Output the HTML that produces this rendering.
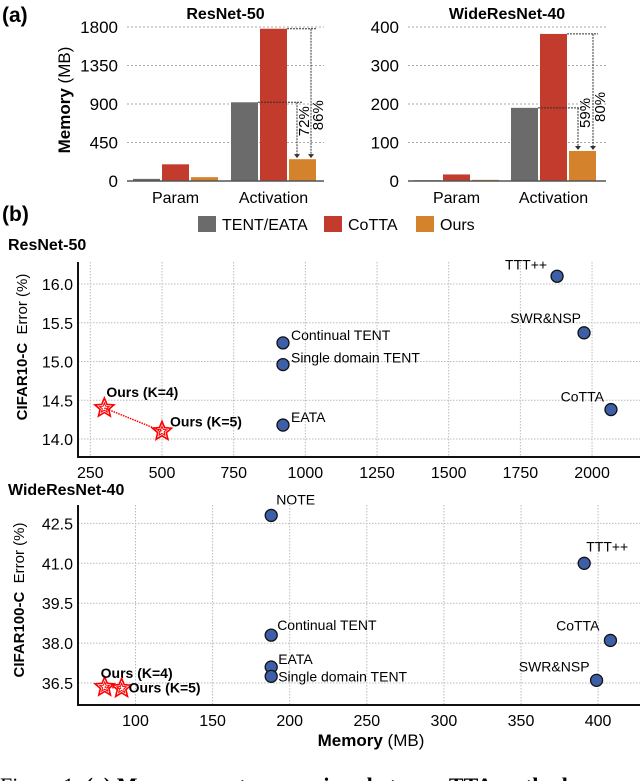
<!DOCTYPE html>
<html><head><meta charset="utf-8"><style>
body{margin:0;background:#fff;width:640px;height:781px;overflow:hidden}
svg{display:block;font-family:"Liberation Sans",sans-serif}
</style></head><body>
<svg id="fig" width="640" height="781" viewBox="0 0 640 781"></svg>
<script>
// ---- Panel (a) data ----
const barCategories = ['Param', 'Activation'];
const barSeries = ['TENT/EATA', 'CoTTA', 'Ours'];
const resnetTentEata = [25, 920];
const resnetCotta = [195, 1780];
const resnetOurs = [45, 255];
const wideTentEata = [2, 190];
const wideCotta = [17, 382];
const wideOurs = [3, 78];
const resnetBarTicks = [0, 450, 900, 1350, 1800];
const wideBarTicks = [0, 100, 200, 300, 400];
const resnetReductions = ['72%', '86%'];
const wideReductions = ['59%', '80%'];
// ---- Panel (b) data ----
const r50Methods = ['TTT++', 'SWR&NSP', 'Continual TENT', 'Single domain TENT', 'EATA', 'CoTTA'];
const r50Memory = [1878, 1972, 922, 922, 922, 2066];
const r50Error = [16.1, 15.37, 15.24, 14.96, 14.18, 14.38];
const r50OursLabels = ['Ours (K=4)', 'Ours (K=5)'];
const r50OursMemory = [299, 500];
const r50OursError = [14.4, 14.1];
const r50XTicks = [250, 500, 750, 1000, 1250, 1500, 1750, 2000];
const r50YTicks = [14.0, 14.5, 15.0, 15.5, 16.0];
const wrnMethods = ['NOTE', 'TTT++', 'Continual TENT', 'CoTTA', 'EATA', 'Single domain TENT', 'SWR&NSP'];
const wrnMemory = [188, 391, 188, 408, 188, 188, 399];
const wrnError = [42.8, 41.0, 38.3, 38.1, 37.1, 36.75, 36.6];
const wrnOursLabels = ['Ours (K=4)', 'Ours (K=5)'];
const wrnOursMemory = [80, 91];
const wrnOursError = [36.35, 36.3];
const wrnXTicks = [100, 150, 200, 250, 300, 350, 400];
const wrnYTicks = [36.5, 38.0, 39.5, 41.0, 42.5];

const NS = 'http://www.w3.org/2000/svg';
const svg = document.getElementById('fig');
function el(tag, attrs, parent, text) {
  const e = document.createElementNS(NS, tag);
  for (const k in attrs) e.setAttribute(k, attrs[k]);
  if (text !== undefined) e.textContent = text;
  (parent || svg).appendChild(e);
  return e;
}
const colors = ['#6b6b6b', '#c23b2c', '#d4832c'];

let t = el('text', {x: 2, y: 22, 'font-size': 21, 'font-weight': 'bold'}, svg, '(a)');
 
t = el('text', {x: 2, y: 221, 'font-size': 21, 'font-weight': 'bold'}, svg, '(b)');
 
t = el('text', {x: 0, y: 0, 'font-size': 17, 'font-weight': 'bold', transform: 'translate(70,100) rotate(-90)', 'text-anchor': 'middle'}, svg);
 
el('tspan', {}, t, 'Memory ');
el('tspan', {'font-weight': 'normal'}, t, '(MB)');

function barChart(name, title, x0, x1, ticks, series, groupX, barW, reductions, annot) {
  const g = el('g', {});
  
  
  const yTop = 27, yBot = 181, vmax = ticks[ticks.length - 1];
  const y = v => yBot - v / vmax * (yBot - yTop);
  const tt = el('text', {x: (x0 + x1) / 2, y: 19, 'font-size': 16, 'font-weight': 'bold', 'text-anchor': 'middle'}, g, title);
   
  ticks.forEach(v => {
    if (v > 0) el('line', {x1: x0, x2: x1, y1: y(v), y2: y(v), stroke: '#aaa', 'stroke-dasharray': '2,2', 'stroke-width': 1}, g);
    const l = el('text', {x: x0 - 9, y: y(v) + 6, 'font-size': 17, 'text-anchor': 'end'}, g, String(v));
     
  });
  series.forEach((vals, si) => {
    vals.forEach((v, ci) => {
      const bx = groupX[ci] + si * (barW + 2);
      const r = el('rect', {x: bx, y: y(v), width: barW, height: yBot - y(v), fill: colors[si]}, g);
      
      
    });
  });
  el('line', {x1: x0, x2: x1, y1: yBot, y2: yBot, stroke: '#555', 'stroke-width': 1.5}, g);
  barCategories.forEach((c, ci) => {
    const l = el('text', {x: groupX[ci] + 1.5 * barW + 2, y: 203, 'font-size': 16, 'text-anchor': 'middle'}, g, c);
     
  });
  const ours = series[2][1];
  const gx = groupX[1];
  const levels = [series[0][1], series[1][1]];
  const starts = [gx + barW, gx + 2 * barW + 2];
  levels.forEach((lv, i) => {
    const ax = annot[i];
    el('line', {x1: starts[i], x2: annot[i] + 5, y1: y(lv), y2: y(lv), stroke: '#333', 'stroke-dasharray': '2,1', 'stroke-width': 1}, g);
    el('line', {x1: ax, x2: ax, y1: y(lv), y2: y(ours) - 4, stroke: '#333', 'stroke-dasharray': '2,1', 'stroke-width': 1}, g);
    el('path', {d: `M${ax - 3},${y(ours) - 5} L${ax + 3},${y(ours) - 5} L${ax},${y(ours) - 1} Z`, fill: '#333'}, g);
    const cy = y(ours) - 38 - i * 6;
    const rt = el('text', {x: 0, y: 0, 'font-size': 15, 'text-anchor': 'middle', transform: `translate(${ax + 12},${cy}) rotate(-90)`}, g, reductions[i]);
     
  });
}
barChart('resnet50-memory-bar-chart', 'ResNet-50', 127, 324, resnetBarTicks,
  [resnetTentEata, resnetCotta, resnetOurs], [133, 231], 27, resnetReductions, [297, 311]);
barChart('wideresnet40-memory-bar-chart', 'WideResNet-40', 408, 606, wideBarTicks,
  [wideTentEata, wideCotta, wideOurs], [414, 511], 27, wideReductions, [578, 593]);

const lg = el('g', {});
 
const legX = [198, 324, 416];
barSeries.forEach((s, i) => {
  const r = el('rect', {x: legX[i], y: 216, width: 18, height: 16, fill: colors[i]}, lg);
   
  const l = el('text', {x: legX[i] + 24, y: 230, 'font-size': 16}, lg, s);
   
});

function star(cx, cy, R, r) {
  let d = '';
  for (let i = 0; i < 10; i++) {
    const a = -Math.PI / 2 + i * Math.PI / 5, rr = i % 2 ? r : R;
    d += (i ? 'L' : 'M') + (cx + rr * Math.cos(a)).toFixed(1) + ',' + (cy + rr * Math.sin(a)).toFixed(1);
  }
  return d + 'Z';
}

function scatter(cfg) {
  const g = el('g', {});
   
  const X = v => cfg.px0 + (v - cfg.v0) * cfg.kx;
  const Y = v => cfg.py0 - (v - cfg.e0) * cfg.ky;
  const tt = el('text', {x: cfg.titleX, y: cfg.titleY, 'font-size': 16, 'font-weight': 'bold'}, g, cfg.title);
   
  cfg.xticks.forEach(v => {
    el('line', {x1: X(v), x2: X(v), y1: cfg.top, y2: cfg.bot, stroke: '#bbb', 'stroke-dasharray': '1.5,1.5'}, g);
    const l = el('text', {x: X(v), y: cfg.bot + 21, 'font-size': 16, 'text-anchor': 'middle'}, g, String(v));
     
  });
  cfg.yticks.forEach(v => {
    el('line', {x1: cfg.left, x2: 640, y1: Y(v), y2: Y(v), stroke: '#bbb', 'stroke-dasharray': '1.5,1.5'}, g);
    const l = el('text', {x: cfg.left - 5, y: Y(v) + 6, 'font-size': 16, 'text-anchor': 'end'}, g, v.toFixed(1));
     
  });
  el('path', {d: `M${cfg.left},${cfg.top} V${cfg.bot} H640`, fill: 'none', stroke: '#111', 'stroke-width': 2}, g);
  const yt = el('text', {x: 0, y: 0, 'font-size': 15, 'text-anchor': 'middle', transform: `translate(${cfg.ytX},${cfg.ytY}) rotate(-90)`}, g);
   
  el('tspan', {'font-weight': 'bold'}, yt, cfg.ds);
  el('tspan', {}, yt, '\u00a0 Error (%)');
  cfg.methods.forEach((m, i) => {
    const cx = X(cfg.mem[i]), cy = Y(cfg.err[i]);
    const c = el('circle', {cx, cy, r: 6, fill: '#3d5fa8', stroke: '#111', 'stroke-width': 1.3}, g);
    
    
    const o = cfg.lab[i];
    const l = el('text', {x: cx + o[0], y: cy + o[1], 'font-size': 14, 'text-anchor': o[2]}, g, m);
     
  });
  const ox = cfg.oursMem.map(X), oy = cfg.oursErr.map(Y);
  el('line', {x1: ox[0], y1: oy[0], x2: ox[1], y2: oy[1], stroke: 'red', 'stroke-dasharray': '1.5,1', 'stroke-width': 1.5}, g);
  cfg.oursLabels.forEach((s, i) => {
    const p = el('path', {d: star(ox[i], oy[i], 10, 4.5), fill: 'none', stroke: 'red', 'stroke-width': 1.6}, g);
     
    el('path', {d: star(ox[i], oy[i], 5, 2.2), fill: 'none', stroke: 'red', 'stroke-width': 1}, g);
    const o = cfg.oursLab[i];
    const l = el('text', {x: ox[i] + o[0], y: oy[i] + o[1], 'font-size': 14, 'font-weight': 'bold'}, g, s);
     
  });
}

scatter({name: 'resnet50-error-vs-memory', title: 'ResNet-50', titleX: 8, titleY: 250,
  px0: 162, v0: 500, kx: 0.2867, py0: 439, e0: 14.0, ky: 77.5, left: 78, top: 262, bot: 457,
  xticks: r50XTicks, yticks: r50YTicks, ytX: 27, ytY: 347, ds: 'CIFAR10-C',
  methods: r50Methods, mem: r50Memory, err: r50Error,
  lab: [[-10, -7, 'end'], [-3, -10, 'end'], [8, -3, 'start'], [8, -2, 'start'], [8, -3, 'start'], [-7, -8, 'end']],
  oursLabels: r50OursLabels, oursMem: r50OursMemory, oursErr: r50OursError,
  oursLab: [[2, -11], [8, -5]]});

scatter({name: 'wideresnet40-error-vs-memory', title: 'WideResNet-40', titleX: 8, titleY: 495,
  px0: 135.5, v0: 100, kx: 1.542, py0: 683, e0: 36.5, ky: 26.6, left: 78, top: 505, bot: 705,
  xticks: wrnXTicks, yticks: wrnYTicks, ytX: 24, ytY: 600, ds: 'CIFAR100-C',
  methods: wrnMethods, mem: wrnMemory, err: wrnError,
  lab: [[5, -11, 'start'], [2, -12, 'start'], [6, -5, 'start'], [-11, -10, 'end'], [7, -3, 'start'], [7, 5, 'start'], [-7, -9, 'end']],
  oursLabels: wrnOursLabels, oursMem: wrnOursMemory, oursErr: wrnOursError,
  oursLab: [[-4, -9], [7, 4]]});

t = el('text', {x: 371, y: 746, 'font-size': 17, 'text-anchor': 'middle'}, svg);
 
el('tspan', {'font-weight': 'bold'}, t, 'Memory ');
el('tspan', {}, t, '(MB)');

t = el('text', {x: 0, y: 793, 'font-size': 22, 'font-family': '"Liberation Serif",serif'}, svg);
 
el('tspan', {}, t, 'Figure 1: ');
el('tspan', {'font-weight': 'bold'}, t, '(a) Measurement comparison between TTA methods');
</script>
</body></html>
